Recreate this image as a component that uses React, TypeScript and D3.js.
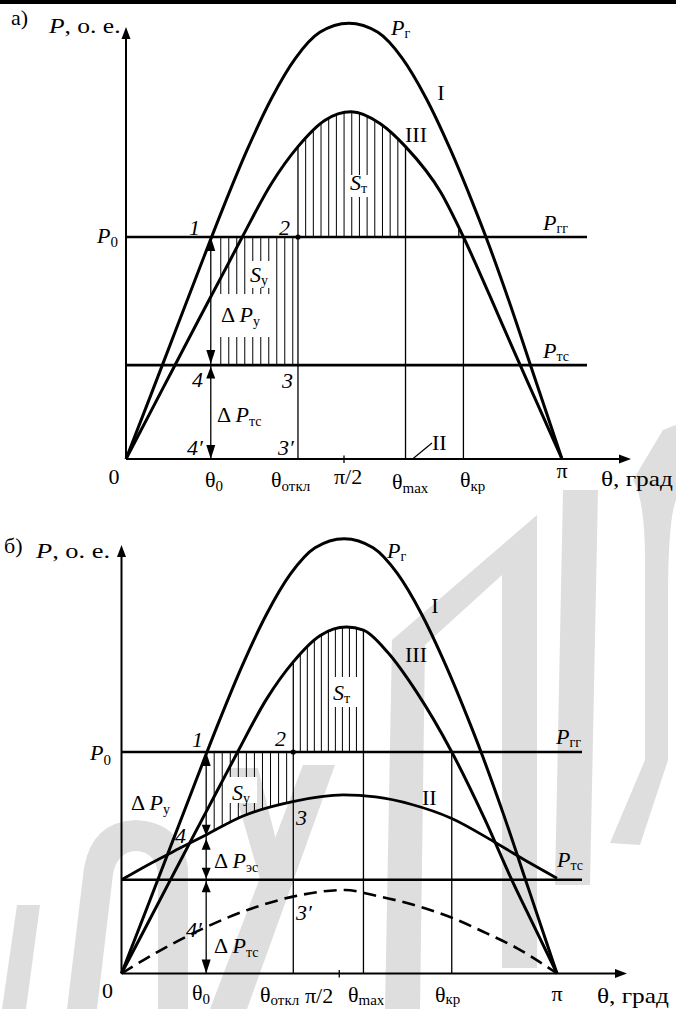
import React from 'react';
import * as d3 from 'd3';

type Pt = [number, number];

// θ in degrees, P in relative units (о. е.), P0 = 1
const curveI: Pt[] = [
  [0, 0], [10, 0.281], [20, 0.565], [30, 0.849], [40, 1.129], [50, 1.392], [60, 1.623],
  [70, 1.806], [80, 1.922], [92, 1.963], [104, 1.922], [114, 1.806], [124, 1.623],
  [134, 1.392], [144, 1.129], [148.6, 1.0], [158, 0.715], [168, 0.39], [180, 0],
];
const curveIIILeft: Pt[] = [
  [0, 0], [10, 0.209], [20, 0.418], [30, 0.627], [40, 0.834], [48, 1.0], [60, 1.24],
  [71, 1.407], [82, 1.525], [93, 1.564],
];
const curveIIIa: Pt[] = [
  ...curveIIILeft,
  [105, 1.51], [115.4, 1.407], [130, 1.2], [139.3, 1.0], [150, 0.74], [160, 0.49], [170, 0.245], [180, 0],
];
const curveIIIb: Pt[] = [
  ...curveIIILeft,
  [100, 1.55], [110, 1.45], [122, 1.27], [136.5, 1.0], [150, 0.7], [161.3, 0.423], [170, 0.225], [180, 0],
];
const curveIIb: Pt[] = [
  [0, 0.423], [12, 0.497], [24, 0.565], [35.3, 0.628], [50, 0.71], [70.8, 0.776], [91.7, 0.806],
  [105, 0.797], [120, 0.763], [136.5, 0.7], [155, 0.588], [169, 0.4975], [180, 0.43],
];
const curveDashed: Pt[] = [
  [0, 0], [15, 0.098], [32.5, 0.197], [55, 0.298], [70.8, 0.347], [92.4, 0.377], [104, 0.354],
  [120.6, 0.31], [135.8, 0.255], [151, 0.181], [163.4, 0.115], [175.8, 0.031], [180, 0],
];

const P0 = 1.0;
const PTC = 0.423;
const anglesA = { th0: 35, thOff: 71, thMax: 115.4, thKr: 139.3 };
const anglesB = { th0: 35, thOff: 71, thMax: 100, thKr: 136.5 };

const FONT = '"Liberation Serif", "Times New Roman", Times, serif';
const WM = '#dedede';

// background emblem
const watermark = [
  'M2,1009 L26,1009 L40,905 L17,905 Z',
  'M67,1009 L84,868 Q92,822 135,820 Q182,822 188,868 L188,1009 L158,1009 L158,874 Q156,852 136,851 Q117,852 113,874 L97,1009 Z',
  'M210,1009 L247,1009 L335,765 L303,765 Z',
  'M228,768 L258,768 L286,880 L266,900 Z',
  'M385,1009 L392,640 L537,515 L537,968 L502,968 L502,575 L425,645 L420,1009 Z',
  'M555,885 L590,885 L598,490 L563,490 Z',
  'M663,430 L676,425 L676,500 Q668,520 668,600 L668,760 L640,845 L610,843 L645,760 L645,560 Q645,500 633,480 Z',
];

const valueAt = (data: Pt[], th: number) =>
  d3.scaleLinear().domain(data.map((d) => d[0])).range(data.map((d) => d[1]))(th);

const head = (x: number, tipY: number, dir: number, len = 13, hw = 4.5) =>
  `M${x},${tipY} L${x - hw},${tipY - dir * len} L${x + hw},${tipY - dir * len} Z`;

const Sub = ({ children, size = 15, dy = 3 }: any) => (
  <tspan fontSize={size} dy={dy} fontStyle="normal">{children}</tspan>
);
const I = ({ children }: any) => <tspan fontStyle="italic">{children}</tspan>;

// text drawn slightly wider than the font's natural width
const Wide = ({ x, y, sx, children }: any) => (
  <text transform={`translate(${x},${y}) scale(${sx},1)`}>{children}</text>
);

interface PanelProps {
  x0: number; xPi: number; yZero: number; yP0: number;
  curveIII: Pt[]; ang: typeof anglesA; kind: 'a' | 'b';
  yTip: number; xTip: number; lineEnd: number;
}

function Panel({ x0, xPi, yZero, yP0, curveIII, ang, kind, yTip, xTip, lineEnd }: PanelProps) {
  const x = d3.scaleLinear().domain([0, 180]).range([x0, xPi]);
  const y = d3.scaleLinear().domain([0, P0]).range([yZero, yP0]);
  const line = d3.line<Pt>().x((d) => x(d[0])).y((d) => y(d[1])).curve(d3.curveMonotoneX);
  const areaTo = (data: Pt[]) =>
    d3.area<Pt>().x((d) => x(d[0])).y0(y(P0)).y1((d) => y(d[1])).curve(d3.curveMonotoneX)(data) as string;

  const xs0 = x(ang.th0);
  const xOff = x(ang.thOff);
  const xMax = x(ang.thMax);
  const xKr = x(ang.thKr);
  const yPtc = y(PTC);
  const id = `clip-${kind}`;

  // braking area hatch: between θоткл and θmax
  const nT = kind === 'a' ? 14 : 10;
  const hatchT = d3.range(1, nT).map((k) => xOff + ((xMax - xOff) * k) / nT);
  // accelerating area hatch
  const stepU = kind === 'a' ? 8 : 8.05;
  const hatchU = d3.range(0, 10).map((k) => xs0 + (kind === 'a' ? 10 : 8) + k * stepU);

  const yIIth0 = y(valueAt(curveIIb, ang.th0));

  return (
    <g>
      <defs>
        <clipPath id={`${id}-t`}><path d={areaTo(curveIII)} /></clipPath>
        {kind === 'b' && <clipPath id={`${id}-u`}><path d={areaTo(curveIIb)} /></clipPath>}
      </defs>

      {/* hatching */}
      <g stroke="#000" strokeWidth={1} clipPath={`url(#${id}-t)`}>
        {hatchT.map((hx, i) => <line key={i} x1={hx} x2={hx} y1={y(P0)} y2={y(2.1)} />)}
      </g>
      {kind === 'a' ? (
        <g stroke="#000" strokeWidth={1}>
          {hatchU.map((hx, i) => <line key={i} x1={hx} x2={hx} y1={y(P0)} y2={yPtc} />)}
        </g>
      ) : (
        <g stroke="#000" strokeWidth={1} clipPath={`url(#${id}-u)`}>
          {hatchU.map((hx, i) => <line key={i} x1={hx} x2={hx} y1={y(P0)} y2={y(0)} />)}
        </g>
      )}

      {/* guide verticals */}
      <g stroke="#000" strokeWidth={1.3}>
        <line x1={xOff} x2={xOff} y1={y(valueAt(curveIII, ang.thOff))} y2={yZero} />
        <line x1={xMax} x2={xMax} y1={y(valueAt(curveIII, ang.thMax))} y2={yZero} />
        <line x1={xKr} x2={xKr} y1={y(P0)} y2={yZero} />
        {kind === 'a' && <line x1={x(137.4)} x2={x(137.4)} y1={y(1.04)} y2={y(P0)} />}
        <line x1={xs0} x2={xs0} y1={y(P0)} y2={yZero} />
        <line x1={x(90)} x2={x(90)} y1={yZero - 3.5} y2={yZero + 4} />
      </g>

      {/* white label backgrounds */}
      <g fill="#fff">
        {kind === 'a' ? (
          <>
            <rect x={246} y={261} width={26} height={27} />
            <rect x={219} y={294} width={52} height={43} />
            <rect x={349} y={175} width={23} height={22} />
          </>
        ) : (
          <>
            <rect x={228} y={777} width={29} height={26} />
            <rect x={331} y={677} width={27} height={30} />
          </>
        )}
      </g>

      {/* levels */}
      <g stroke="#000" strokeWidth={2.6}>
        <line x1={x0} x2={lineEnd} y1={y(P0)} y2={y(P0)} />
        <line x1={x0} x2={lineEnd} y1={yPtc} y2={yPtc} />
      </g>

      {/* axes */}
      <g stroke="#000" strokeWidth={2}>
        <line x1={x0} x2={x0} y1={yZero} y2={yTip + 8} />
        <line x1={x0} x2={xTip - 8} y1={yZero} y2={yZero} />
      </g>
      <path d={head(x0, yTip, -1, 12, 4.5)} fill="#000" />
      <path d={`M${xTip},${yZero} L${xTip - 12},${yZero - 4.5} L${xTip - 12},${yZero + 4.5} Z`} fill="#000" />

      {/* characteristics */}
      <g fill="none" stroke="#000" strokeWidth={3} strokeLinejoin="round">
        <path d={line(curveI) as string} />
        <path d={line(curveIII) as string} />
        {kind === 'b' && <path d={line(curveIIb) as string} strokeWidth={2.8} />}
        {kind === 'b' && <path d={line(curveDashed) as string} strokeWidth={2.6} strokeDasharray="13 7" />}
      </g>

      {/* Δ arrows on θ0 */}
      <g fill="#000">
        <path d={head(xs0, y(P0), -1, 14, 4.5)} />
        {kind === 'a' ? (
          <>
            <path d={head(xs0, yPtc - 1, 1, 14, 4.5)} />
            <path d={head(xs0, yPtc + 1.5, -1, 12, 4.5)} />
          </>
        ) : (
          <>
            <path d={head(xs0, yIIth0 + 1, 1, 11, 4.5)} />
            <path d={head(xs0, yIIth0 + 4, -1, 11, 4.5)} />
            <path d={head(xs0, yPtc - 1, 1, 11, 4.5)} />
            <path d={head(xs0, yPtc + 1.5, -1, 11, 4.5)} />
          </>
        )}
        <path d={head(xs0, yZero, 1, 14, 4.5)} />
      </g>
      <circle cx={xOff} cy={y(P0)} r={2.6} fill="#000" />

      {kind === 'a' && (
        <line x1={x(118.3)} y1={yZero} x2={432} y2={443} stroke="#000" strokeWidth={1.2} />
      )}
    </g>
  );
}

export default function App() {
  return (
    <svg
      width={676}
      height={1009}
      viewBox="0 0 676 1009"
      style={{ position: 'absolute', left: 0, top: 0, background: '#fff' }}
      fontFamily={FONT}
      fontSize={22}
      fill="#000"
    >
      <rect x={0} y={0} width={676} height={1009} fill="#fff" />
      <g fill={WM}>
        {watermark.map((d, i) => <path key={i} d={d} />)}
      </g>
      <rect x={0} y={0} width={676} height={4} fill="#000" />

      <Panel kind="a" x0={126} xPi={562} yZero={459} yP0={237} curveIII={curveIIIa} ang={anglesA}
        yTip={27} xTip={631} lineEnd={587} />
      <Panel kind="b" x0={121.5} xPi={557} yZero={973.5} yP0={752} curveIII={curveIIIb} ang={anglesB}
        yTip={545} xTip={627} lineEnd={582} />

      {/* ---- labels, panel а ---- */}
      <g>
        <text x={11} y={25}>а)</text>
        <Wide x={49} y={33} sx={1.16}><I>P</I>, о. е.</Wide>
        <text x={391} y={35}><I>P</I><Sub size={14}>г</Sub></text>
        <text x={441} y={100} textAnchor="middle">I</text>
        <text x={405} y={142}>III</text>
        <text x={350} y={190}><I>S</I><Sub size={14}>т</Sub></text>
        <text x={543} y={230}><I>P</I><Sub size={14}>гг</Sub></text>
        <text x={97} y={243}><I>P</I><Sub size={15} dy={4}>0</Sub></text>
        <text x={189} y={235} fontStyle="italic">1</text>
        <text x={279} y={235} fontStyle="italic">2</text>
        <text x={250} y={282}><I>S</I><Sub size={14}>у</Sub></text>
        <text x={221} y={322}>Δ <I>P</I><Sub size={14} dy={4}>у</Sub></text>
        <text x={192} y={387} fontStyle="italic">4</text>
        <text x={282} y={388} fontStyle="italic">3</text>
        <text x={217} y={422}>Δ <I>P</I><Sub size={14} dy={4}>тс</Sub></text>
        <text x={187} y={455} fontStyle="italic">4′</text>
        <text x={278} y={455} fontStyle="italic">3′</text>
        <text x={543} y={358}><I>P</I><Sub size={14}>тс</Sub></text>
        <text x={432} y={450}>II</text>

        <text x={114} y={484} textAnchor="middle">0</text>
        <text x={205} y={487}>θ<Sub dy={4}>0</Sub></text>
        <text x={271} y={487}>θ<Sub dy={4}>откл</Sub></text>
        <text x={334} y={484}>π/2</text>
        <text x={392} y={489}>θ<Sub dy={4}>max</Sub></text>
        <text x={460} y={487}>θ<Sub dy={4}>кр</Sub></text>
        <text x={562} y={478} textAnchor="middle">π</text>
        <Wide x={601} y={486} sx={1.15}>θ, град</Wide>
      </g>

      {/* ---- labels, panel б ---- */}
      <g>
        <text x={4} y={553}>б)</text>
        <Wide x={36} y={558} sx={1.2}><I>P</I>, о. е.</Wide>
        <text x={387} y={558}><I>P</I><Sub size={14}>г</Sub></text>
        <text x={435} y={613} textAnchor="middle">I</text>
        <text x={405} y={662}>III</text>
        <text x={333} y={700}><I>S</I><Sub size={14}>т</Sub></text>
        <text x={556} y={744}><I>P</I><Sub size={14}>гг</Sub></text>
        <text x={90} y={760}><I>P</I><Sub size={15} dy={5}>0</Sub></text>
        <text x={192} y={747} fontStyle="italic">1</text>
        <text x={275} y={746} fontStyle="italic">2</text>
        <text x={232} y={800}><I>S</I><Sub size={14}>у</Sub></text>
        <text x={131} y={810}>Δ <I>P</I><Sub size={14} dy={4}>у</Sub></text>
        <text x={296} y={825} fontStyle="italic">3</text>
        <text x={175} y={843} fontStyle="italic">4</text>
        <text x={214} y={868}>Δ <I>P</I><Sub size={14} dy={4}>эс</Sub></text>
        <text x={296} y={920} fontStyle="italic">3′</text>
        <text x={186} y={937} fontStyle="italic">4′</text>
        <text x={214} y={953}>Δ <I>P</I><Sub size={14} dy={4}>тс</Sub></text>
        <text x={422} y={805}>II</text>
        <text x={557} y={867}><I>P</I><Sub size={14}>тс</Sub></text>

        <text x={107.5} y={998} textAnchor="middle">0</text>
        <text x={192} y={1000}>θ<Sub dy={4}>0</Sub></text>
        <text x={260} y={1002}>θ<Sub dy={3}>откл</Sub></text>
        <text x={305} y={1003}>π/2</text>
        <text x={348} y={1002}>θ<Sub dy={3}>max</Sub></text>
        <text x={435} y={1002}>θ<Sub dy={2}>кр</Sub></text>
        <text x={557} y={1001} textAnchor="middle">π</text>
        <Wide x={597} y={1003} sx={1.15}>θ, град</Wide>
      </g>
    </svg>
  );
}
